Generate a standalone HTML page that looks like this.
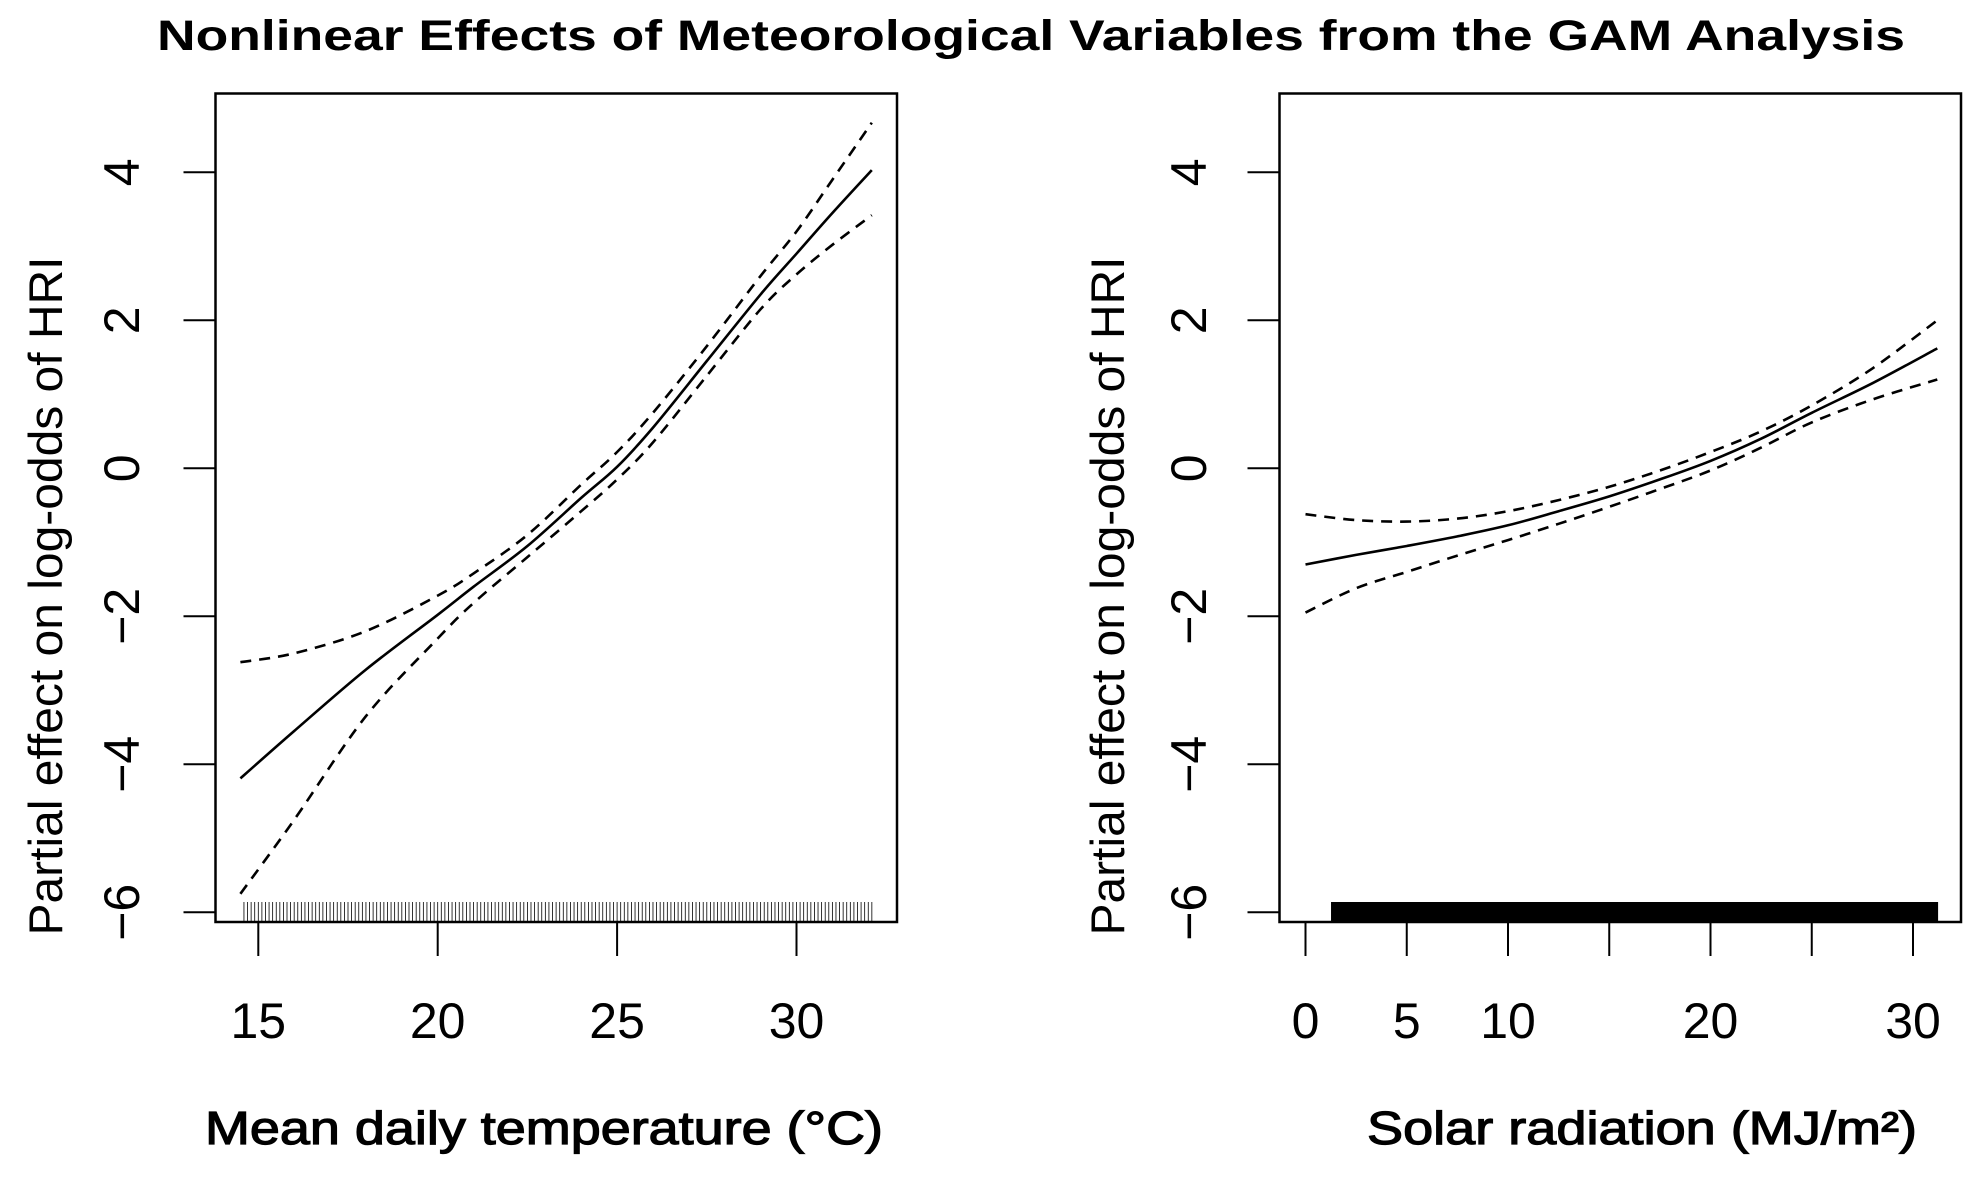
<!DOCTYPE html>
<html><head><meta charset="utf-8"><style>
html,body{margin:0;padding:0;background:#fff;}
svg{display:block;font-family:"Liberation Sans",sans-serif;}
</style></head><body>
<svg id="chart" width="1985" height="1181" viewBox="0 0 1985 1181" xmlns="http://www.w3.org/2000/svg">
<text x="1031" y="50" text-anchor="middle" font-size="43" font-weight="bold" textLength="1748" lengthAdjust="spacingAndGlyphs">Nonlinear Effects of Meteorological Variables from the GAM Analysis</text>
<g id="p1"></g>
<g id="p2"></g>
</svg>
<script>
// Panel 1: temperature
const tempX = [14.5, 16, 18, 20, 21, 22.5, 24, 25, 26, 27.5, 29, 30, 31, 32.1];
const tempFit = [-4.19, -3.55, -2.72, -1.98, -1.6, -1.05, -0.4, 0.02, 0.55, 1.45, 2.35, 2.9, 3.45, 4.03];
const tempUpper = [-2.62, -2.5, -2.2, -1.72, -1.42, -0.9, -0.22, 0.22, 0.75, 1.65, 2.6, 3.2, 3.9, 4.67];
const tempLower = [-5.75, -4.75, -3.35, -2.3, -1.82, -1.2, -0.58, -0.15, 0.35, 1.25, 2.15, 2.62, 3.02, 3.42];
// Panel 2: solar radiation
const solarX = [0, 2.5, 5, 7.5, 10, 12.5, 15, 17.5, 20, 22.5, 25, 28, 31.2];
const solarFit = [-1.3, -1.17, -1.05, -0.92, -0.77, -0.58, -0.38, -0.15, 0.1, 0.4, 0.75, 1.15, 1.62];
const solarUpper = [-0.62, -0.7, -0.72, -0.68, -0.58, -0.43, -0.25, -0.03, 0.22, 0.5, 0.85, 1.35, 2.0];
const solarLower = [-1.95, -1.62, -1.4, -1.18, -0.97, -0.75, -0.52, -0.28, -0.03, 0.28, 0.62, 0.93, 1.2];
const yTicks = [-6, -4, -2, 0, 2, 4];
const tempTicks = [15, 20, 25, 30];
const tempTickLabels = ["15", "20", "25", "30"];
const solarTicks = [0, 5, 10, 15, 20, 25, 30];
const solarTickLabels = ["0", "5", "10", "", "20", "", "30"];
const tempRugRange = [14.6, 32.1];
const solarRugRange = [1.3, 31.2];

const NS = "http://www.w3.org/2000/svg";
function mk(parent, tag, attrs, text){
  const e = document.createElementNS(NS, tag);
  for (const k in attrs) e.setAttribute(k, attrs[k]);
  if (text !== undefined) e.textContent = text;
  parent.appendChild(e);
  return e;
}
const yS = v => 912.3 - (v + 6) * 74.0;

function smoothPath(pts){
  let d = "M" + pts[0][0].toFixed(1) + "," + pts[0][1].toFixed(1);
  for (let i = 0; i < pts.length - 1; i++) {
    const p0 = pts[Math.max(0, i - 1)], p1 = pts[i], p2 = pts[i + 1], p3 = pts[Math.min(pts.length - 1, i + 2)];
    const c1 = [p1[0] + (p2[0] - p0[0]) / 6, p1[1] + (p2[1] - p0[1]) / 6];
    const c2 = [p2[0] - (p3[0] - p1[0]) / 6, p2[1] - (p3[1] - p1[1]) / 6];
    d += " C" + c1.map(v => v.toFixed(1)).join(",") + " " + c2.map(v => v.toFixed(1)).join(",") + " " + p2[0].toFixed(1) + "," + p2[1].toFixed(1);
  }
  return d;
}

function panel(g, cfg){
  const xS = v => cfg.x0 + (v - cfg.v0) * cfg.k;
  const box = mk(g, "rect", {x: cfg.bl, y: 93.5, width: cfg.br - cfg.bl, height: 828.5, fill: "none", stroke: "#000", "stroke-width": 2.5});
  
  
  const ya = mk(g, "g", {});
  
  
  mk(ya, "line", {x1: cfg.bl, x2: cfg.bl, y1: yS(-6), y2: yS(4), stroke: "#000", "stroke-width": 2});
  yTicks.forEach(t => {
    const tk = mk(ya, "line", {x1: cfg.bl - 32, x2: cfg.bl, y1: yS(t), y2: yS(t), stroke: "#000", "stroke-width": 2});
    
    
    const lb = mk(ya, "text", {x: 0, y: 0, "font-size": 50, "text-anchor": "middle", transform: `translate(${cfg.yl + 18},${yS(t)}) rotate(-90)`}, t < 0 ? "\u2212" + (-t) : String(t));
    
    
  });
  const yt = mk(g, "text", {x: 0, y: 0, "font-size": 47, "text-anchor": "middle", textLength: 679, lengthAdjust: "spacingAndGlyphs", transform: `translate(${cfg.yt + 17},596) rotate(-90)`}, "Partial effect on log-odds of HRI");
  
  
  const xa = mk(g, "g", {});
  
  
  mk(xa, "line", {x1: xS(cfg.ticks[0]), x2: xS(cfg.ticks[cfg.ticks.length - 1]), y1: 922, y2: 922, stroke: "#000", "stroke-width": 2});
  cfg.ticks.forEach((t, i) => {
    const tk = mk(xa, "line", {x1: xS(t), x2: xS(t), y1: 922, y2: 956, stroke: "#000", "stroke-width": 2});
    
    
    if (cfg.labels[i]) {
      const lb = mk(xa, "text", {x: xS(t), y: 1038, "font-size": 50, "text-anchor": "middle"}, cfg.labels[i]);
      
      
    }
  });
  const xt = mk(g, "text", {x: (cfg.xt0 + cfg.xt1) / 2, y: 1144, "font-size": 46, "text-anchor": "middle", stroke: "#000", "stroke-width": 1.2, textLength: cfg.xt1 - cfg.xt0, lengthAdjust: "spacingAndGlyphs"}, cfg.title);
  
  
  const rug = mk(g, "g", {stroke: "#000", "stroke-width": cfg.rugW});
  
  
  for (let v = cfg.rug[0]; v <= cfg.rug[1] + 1e-9; v += cfg.rugStep) {
    mk(rug, "line", {x1: xS(v), x2: xS(v), y1: 902, y2: 922});
  }
  const pathOf = ys => smoothPath(cfg.xs.map((x, i) => [xS(x), yS(ys[i])]));
  [["upper-ci-line", cfg.up, "11,8"], ["lower-ci-line", cfg.lo, "11,8"], ["fitted-smooth-line", cfg.fit, null]].forEach(([n, ys, d]) => {
    const a = {d: pathOf(ys), fill: "none", stroke: "#000", "stroke-width": 2.6, "stroke-linejoin": "round"};
    if (d) a["stroke-dasharray"] = d;
    const p = mk(g, "path", a);
    
    
  });
}
panel(document.getElementById("p1"), {bl: 215.5, br: 897, x0: 258.3, v0: 15, k: 35.88, yl: 121, yt: 45,
  ticks: tempTicks, labels: tempTickLabels, xt0: 205, xt1: 883, title: "Mean daily temperature (\u00B0C)",
  rug: tempRugRange, rugStep: 0.1, rugW: 0.8, xs: tempX, fit: tempFit, up: tempUpper, lo: tempLower});
panel(document.getElementById("p2"), {bl: 1279.5, br: 1961, x0: 1305.5, v0: 0, k: 20.25, yl: 1188, yt: 1107,
  ticks: solarTicks, labels: solarTickLabels, xt0: 1367, xt1: 1917, title: "Solar radiation (MJ/m\u00B2)",
  rug: solarRugRange, rugStep: 0.05, rugW: 1.6, xs: solarX, fit: solarFit, up: solarUpper, lo: solarLower});
</script>
</body></html>
